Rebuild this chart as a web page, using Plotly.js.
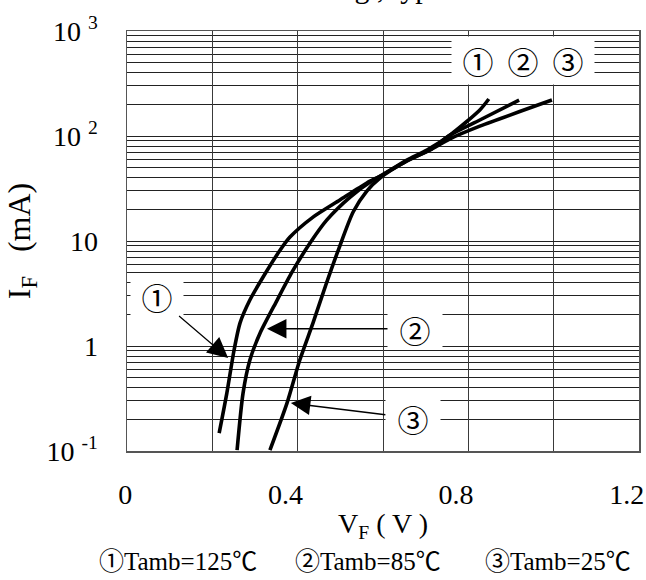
<!DOCTYPE html>
<html>
<head>
<meta charset="utf-8">
<script src="https://cdn.plot.ly/plotly-3.0.1.min.js"></script>
<style>html,body{margin:0;padding:0;background:#fff;}#chart{width:646px;height:580px;}</style>
</head>
<body>
<div id="chart"></div>
<script>
// ---- data (VF in V, IF in mA) ----
var vf125 = [0.216,0.234,0.251,0.265,0.288,0.319,0.359,0.382,0.436,0.499,0.562,0.598,0.656,0.703,0.757,0.827,0.848];
var if125 = [0.148,0.356,0.916,1.66,2.74,4.54,8.2,10.9,16.9,24.6,35.7,42.5,59,73.6,102,177,225];

var vf85 = [0.258,0.272,0.288,0.312,0.352,0.387,0.429,0.468,0.523,0.577,0.598,0.656,0.710,0.757,0.827,0.919];
var if85 = [0.102,0.356,0.736,1.33,2.74,5.07,9.57,15.8,26.2,38.1,42.5,58,73.6,102,142,220];

var vf25 = [0.335,0.375,0.405,0.436,0.466,0.497,0.530,0.562,0.593,0.656,0.710,0.757,0.827,0.996];
var if25 = [0.102,0.286,0.736,1.66,3.81,8.57,18.9,29.9,39.8,57.8,73.6,94,124,220];

var seriesMarks = ['\u2460','\u2461','\u2462'];
var legendLabels = ['\u2460Tamb=125\u2103','\u2461Tamb=85\u2103','\u2462Tamb=25\u2103'];

var xTickVals = [0,0.2,0.4,0.6,0.8,1.0,1.2];
var xTickText = ['0','','0.4','','0.8','','1.2'];
var yTickVals = [0.1,1,10,100,1000];
var yTickText = ['10 <sup>-1</sup>','1','10','10 <sup>2</sup>','10 <sup>3</sup>'];

var chartTitle = 'IF-VF Rating , typ';
var xTitle = 'V<sub>F</sub> ( V )';
var yTitle = 'I<sub>F</sub>\u00a0\u00a0\u00a0(mA)\u00a0\u00a0\u00a0';

var serif = 'Liberation Serif, Times New Roman, Noto Sans CJK JP, serif';
var markFont = 'Noto Sans CJK JP, DejaVu Sans, sans-serif';

function curve(x, y){
  return {x:x, y:y, type:'scatter', mode:'lines',
    line:{color:'#000', width:3.6, shape:'spline', smoothing:0.7},
    hoverinfo:'skip', showlegend:false};
}
var traces = [curve(vf125, if125), curve(vf85, if85), curve(vf25, if25)];

var annotations = [
  // title, cropped at the top edge as in the reference
  {text: chartTitle, xref:'paper', yref:'paper', x:0.596, y:1, xanchor:'right', yanchor:'bottom',
   yshift:25, showarrow:false, font:{family:serif, size:30, color:'#000'}},
  // top marker box
  {text: seriesMarks.join('\u00a0\u00a0'), xref:'x', yref:'y', x:0.928, y:2.719,
   showarrow:false, bgcolor:'#fff', width:140, height:45,
   font:{family:markFont, size:31, color:'#000'}},
  // callouts
  {text: seriesMarks[0], xref:'x', yref:'y', x:0.237, y:-0.114, axref:'x', ayref:'y', ax:0.070, ay:0.467,
   showarrow:true, arrowhead:2, arrowwidth:1.2, arrowsize:3.4, arrowcolor:'#000',
   bgcolor:'#fff', width:50, height:35, font:{family:markFont, size:31, color:'#000'}},
  {text: seriesMarks[1], xref:'x', yref:'y', x:0.328, y:0.165, axref:'x', ayref:'y', ax:0.675, ay:0.165,
   showarrow:true, arrowhead:2, arrowwidth:1.5, arrowsize:2.6, arrowcolor:'#000',
   bgcolor:'#fff', width:52, height:36, font:{family:markFont, size:31, color:'#000'}},
  {text: seriesMarks[2], xref:'x', yref:'y', x:0.384, y:-0.543, axref:'x', ayref:'y', ax:0.670, ay:-0.686,
   showarrow:true, arrowhead:2, arrowwidth:1.5, arrowsize:2.6, arrowcolor:'#000',
   bgcolor:'#fff', width:52, height:40, font:{family:markFont, size:31, color:'#000'}}
];
var legendX = [0.0996, 0.471, 0.842];
for (var i = 0; i < legendLabels.length; i++) {
  annotations.push({text: legendLabels[i], xref:'paper', yref:'paper', x:legendX[i], y:-0.264,
    xanchor:'center', yanchor:'middle', showarrow:false,
    font:{family:serif, size:25, color:'#000'}});
}

var layout = {
  width:646, height:580,
  margin:{l:127, r:7, t:31, b:129, pad:0},
  paper_bgcolor:'#fff', plot_bgcolor:'#fff',
  showlegend:false,
  font:{family:serif, color:'#000'},
  xaxis:{
    range:[0,1.2], tickmode:'array', tickvals:xTickVals, ticktext:xTickText,
    showgrid:true, gridcolor:'#3a3a3a', gridwidth:1, zeroline:false,
    showline:true, mirror:true, linecolor:'#555', linewidth:1.5,
    ticks:'', ticklabelposition:'outside left', ticklabelshift:6, ticklabelstandoff:18,
    tickfont:{family:serif, size:28, color:'#000'},
    title:{text:xTitle, font:{family:serif, size:28, color:'#000'}, standoff:4},
    automargin:false
  },
  yaxis:{
    type:'log', range:[-1,3], tickmode:'array', tickvals:yTickVals, ticktext:yTickText,
    showgrid:true, gridcolor:'#222', gridwidth:1, zeroline:false,
    minor:{dtick:'D1', showgrid:true, gridcolor:'#222', gridwidth:1, ticks:''},
    showline:true, mirror:true, linecolor:'#555', linewidth:1.5,
    ticks:'', ticklabelstandoff:22,
    tickfont:{family:serif, size:28, color:'#000'},
    title:{text:yTitle, font:{family:serif, size:32, color:'#000'}, standoff:6},
    automargin:false
  },
  annotations: annotations
};

Plotly.newPlot('chart', traces, layout, {staticPlot:true, displayModeBar:false});
</script>
</body>
</html>
